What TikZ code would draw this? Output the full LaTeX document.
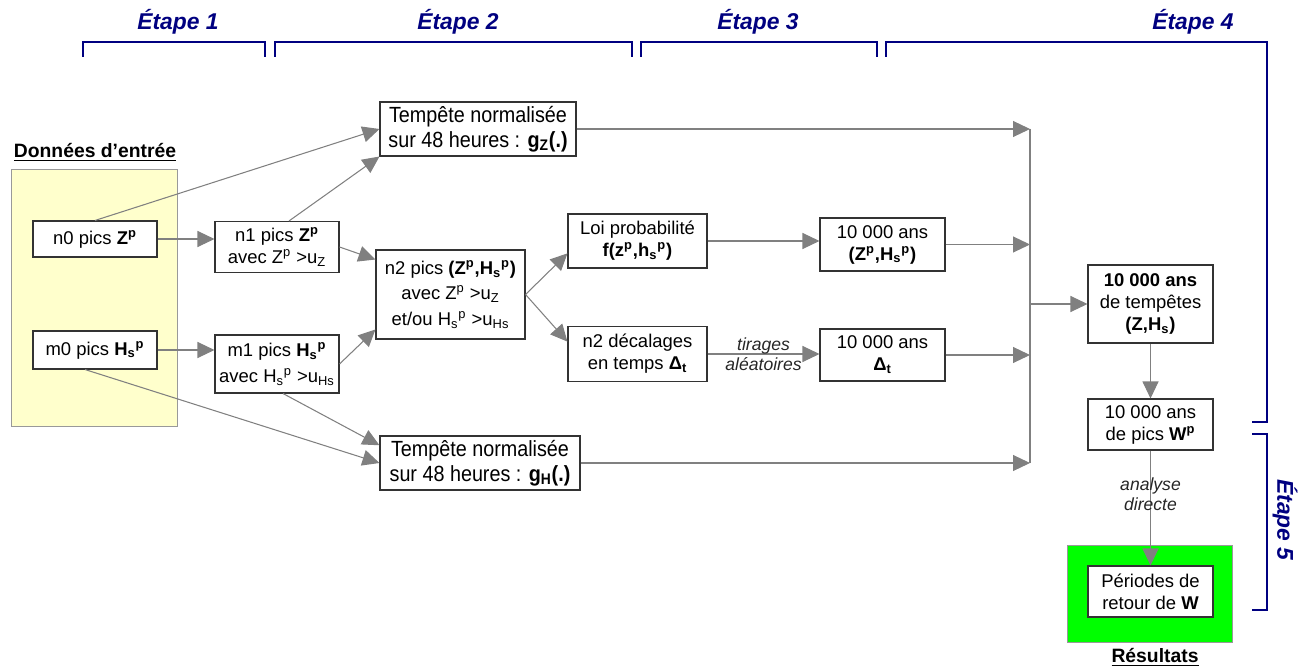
\documentclass[tikz,border=0pt]{standalone}
\usepackage{fontspec}
\setmainfont{Liberation Sans}
\newfontfamily\narrowfont[FakeStretch=0.9]{Liberation Sans}
\usetikzlibrary{arrows.meta}
\definecolor{navy}{RGB}{0,0,128}
\definecolor{flowgray}{RGB}{128,128,128}
\definecolor{inputyellow}{RGB}{255,255,204}
\definecolor{resultgreen}{RGB}{0,255,0}
\newdimen\pxu \pxu=0.02cm

\tikzset{
    box/.style = {rectangle, draw = black!80, fill = white, line width = 0.6pt, align = center, inner sep = 1pt, font = \fontsize{10.5}{12.5}\selectfont},
    widebox/.style = {box, font = \fontsize{12.5}{14}\selectfont\narrowfont},
    flow/.style = {draw = flowgray, line width = 0.6pt, -{Triangle[length = 0.34cm, width = 0.32cm]}},
    stage/.style = {text = navy, font = \fontsize{13}{15}\selectfont\bfseries\itshape},
    bracket/.style = {draw = navy, line width = 1.4pt},
    note/.style = {align = center, font = \fontsize{10}{11.5}\selectfont\itshape, text = black!85},
    heading/.style = {font = \fontsize{11}{13}\selectfont\bfseries}
}

\begin{document}
\begin{tikzpicture}[x = 0.02cm, y = -0.02cm]
            \useasboundingbox (0, 0) rectangle (1310, 668);

            % etapes
            \node (e1) at (178, 22) [stage]{Étape 1};
            \node (e2) at (458, 22) [stage]{Étape 2};
            \node (e3) at (758, 22) [stage]{Étape 3};
            \node (e4) at (1193, 22) [stage]{Étape 4};
            \node (e5) at (1285, 520) [stage, rotate = -90]{Étape 5};
            \draw[bracket] (83, 57) -- (83, 42) -- (265, 42) -- (265, 57);
            \draw[bracket] (275, 57) -- (275, 42) -- (632, 42) -- (632, 57);
            \draw[bracket] (641, 57) -- (641, 42) -- (877, 42) -- (877, 57);
            \draw[bracket] (886, 57) -- (886, 42) -- (1267, 42) -- (1267, 422) -- (1252, 422);
            \draw[bracket] (1252, 434) -- (1267, 434) -- (1267, 610) -- (1252, 610);

            % fonds
            \node (inp) at (94, 297.5) [rectangle, draw = black!40, fill = inputyellow, minimum width = 166\pxu, minimum height = 257\pxu]{};
            \node (res) at (1149.5, 593.5) [rectangle, draw = black!40, fill = resultgreen, minimum width = 165\pxu, minimum height = 97\pxu]{};
            \node (tin) at (95, 152) [heading]{\underline{Données d’entrée}};
            \node (tres) at (1155, 657) [heading]{\underline{Résultats}};

            % boites
            \node (n0) at (95, 239) [box, minimum width = 124\pxu, minimum height = 36\pxu]{n0 pics \textbf{Z\textsuperscript{p}}};
            \node (m0) at (95, 350) [box, minimum width = 124\pxu, minimum height = 38\pxu]{m0 pics \textbf{H\textsubscript{s}\textsuperscript{p}}};
            \node (n1) at (277, 247) [box, minimum width = 124\pxu, minimum height = 51\pxu]{n1 pics \textbf{Z\textsuperscript{p}}\\avec Z\textsuperscript{p} >u\textsubscript{Z}};
            \node (m1) at (277, 364) [box, minimum width = 124\pxu, minimum height = 58\pxu]{m1 pics \textbf{H\textsubscript{s}\textsuperscript{p}}\\[2pt]avec H\textsubscript{s}\textsuperscript{p} >u\textsubscript{Hs}};
            \node (n2) at (450.5, 294.5) [box, minimum width = 149\pxu, minimum height = 89\pxu]{n2 pics \textbf{(Z\textsuperscript{p},H\textsubscript{s}\textsuperscript{p})}\\[2pt]avec Z\textsuperscript{p} >u\textsubscript{Z}\\[2pt]et/ou H\textsubscript{s}\textsuperscript{p} >u\textsubscript{Hs}};
            \node (gz) at (478, 129) [widebox, minimum width = 196\pxu, minimum height = 54\pxu]{Tempête normalisée\\sur 48 heures : \textbf{g\textsubscript{Z}(.)}};
            \node (gh) at (480, 463) [widebox, minimum width = 200\pxu, minimum height = 54\pxu]{Tempête normalisée\\sur 48 heures : \textbf{g\textsubscript{H}(.)}};
            \node (loi) at (637.5, 241) [box, minimum width = 139\pxu, minimum height = 54\pxu]{Loi probabilité\\\textbf{f(z\textsuperscript{p},h\textsubscript{s}\textsuperscript{p})}};
            \node (dec) at (637.5, 354) [box, minimum width = 139\pxu, minimum height = 55\pxu]{n2 décalages\\en temps \textbf{Δ\textsubscript{t}}};
            \node (zh) at (882.5, 244.5) [box, minimum width = 125\pxu, minimum height = 53\pxu]{10 000 ans\\\textbf{(Z\textsuperscript{p},H\textsubscript{s}\textsuperscript{p})}};
            \node (dt) at (882.5, 355) [box, minimum width = 125\pxu, minimum height = 52\pxu]{10 000 ans\\\textbf{Δ\textsubscript{t}}};
            \node (tp) at (1150.5, 304) [box, minimum width = 125\pxu, minimum height = 78\pxu]{\textbf{10 000 ans}\\de tempêtes\\\textbf{(Z,H\textsubscript{s})}};
            \node (wp) at (1150.5, 424.5) [box, minimum width = 125\pxu, minimum height = 51\pxu]{10 000 ans\\de pics \textbf{W\textsuperscript{p}}};
            \node (per) at (1150.5, 591.5) [box, minimum width = 125\pxu, minimum height = 51\pxu]{Périodes de\\retour de \textbf{W}};

            \coordinate (ctop) at (1030, 129);
            \coordinate (cmid) at (1030, 304);
            \coordinate (cbot) at (1030, 463);

            % fleches
            \draw[flow] (n0.east) -- (n0.east -| n1.west);
            \draw[flow] (m0.east) -- (m0.east -| m1.west);
            \draw[flow] (n0.north) -- (gz.west);
            \draw[flow] ([xshift = 12\pxu]n1.north) -- (gz.south west);
            \draw[flow] (n1.east) -- (n2.155);
            \draw[flow] (m1.east) -- (n2.205);
            \draw[flow] ([xshift = -10\pxu]m0.south) -- (gh.west);
            \draw[flow] ([xshift = 6\pxu]m1.south) -- (gh.170);
            \draw[flow] (n2.east) -- (loi.190);
            \draw[flow] (n2.east) -- (dec.170);
            \draw[flow] (loi.east) -- (loi.east -| zh.west);
            \draw[flow] (dec) -- node[note]{tirages\\aléatoires} (dec -| dt.west);
            \draw[flow] (gz.east) -- (ctop);
            \draw[flow] (zh.east) -- (zh.east -| ctop);
            \draw[flow] (dt.east) -- (dt.east -| ctop);
            \draw[flow] (gh.east) -- (cbot);
            \draw[draw = flowgray, line width = 0.6pt] (ctop) -- (cbot);
            \draw[flow] (cmid) -- (tp.west);
            \draw[flow] (tp) -- (wp);
            \draw[flow] (wp) -- node[note, pos = 0.38]{analyse\\directe} (per);
        \end{tikzpicture}
\end{document}
